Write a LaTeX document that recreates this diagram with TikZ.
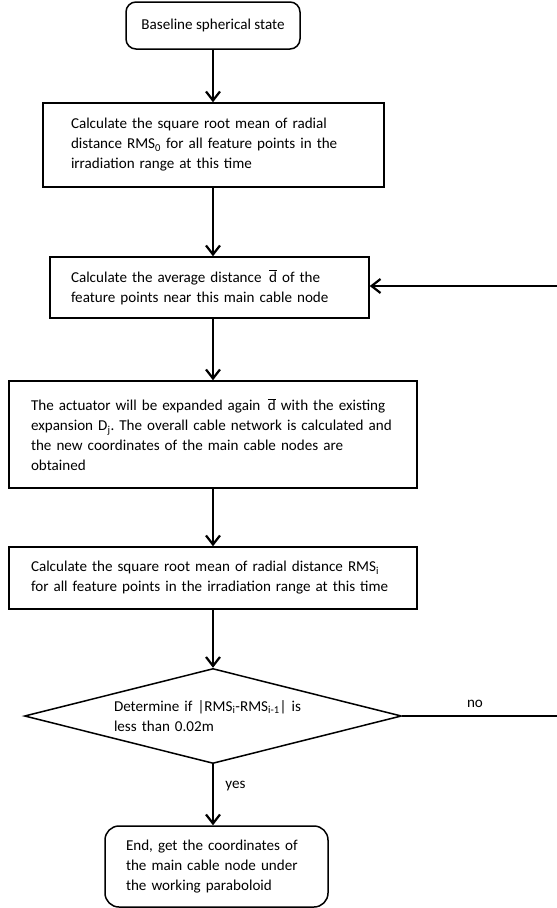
\documentclass[tikz,border=0pt]{standalone}
\usepackage{fontspec}
\setmainfont{Carlito}
\usetikzlibrary{shapes.geometric,arrows.meta}
\newcommand{\dbar}{$\overline{\mbox{d}}$}
\frenchspacing

\begin{document}
\begin{tikzpicture}[x=1pt, y=-1pt,
  every node/.style={font=\fontsize{15.1}{20}\selectfont},
  box/.style={draw, rectangle, line width=1.5pt, inner sep=0pt, align=left},
  startstop/.style={draw, rectangle, rounded corners=10pt, line width=1.5pt, inner sep=0pt, align=left},
  decision/.style={draw, diamond, aspect=4, line width=1.5pt, inner sep=0pt, align=left},
  >={Straight Barb[length=9pt, width=14pt]}]
\useasboundingbox (0,0) rectangle (557,908);
\node[startstop, minimum width=174pt, minimum height=47pt] (start) at (213,25.5) {Baseline spherical state};
\node[box, minimum width=341pt, minimum height=84pt, text width=285pt] (rms0) at (213.5,145) {Calculate the square root mean of radial\\distance RMS\textsubscript{0} for all feature points in the\\irradiation range at this time};
\node[box, minimum width=319pt, minimum height=61pt, text width=277pt] (avg) at (209.5,287.5) {Calculate the average distance \,\dbar{} of the\\feature points near this main cable node};
\node[box, minimum width=408pt, minimum height=107pt, text width=364pt] (act) at (213,434.5) {The actuator will be expanded again \,\dbar{} with the existing\\expansion D\textsubscript{j}. The overall cable network is calculated and\\the new coordinates of the main cable nodes are\\obtained};
\node[box, minimum width=408pt, minimum height=62pt, text width=364pt] (rmsi) at (213,578) {Calculate the square root mean of radial distance RMS\textsubscript{i}\\for all feature points in the irradiation range at this time};
\node[decision, minimum width=377pt, minimum height=95pt, text width=198pt] (check) at (213,716) {Determine if |RMS\textsubscript{i}-RMS\textsubscript{i-1}| is\\less than 0.02m};
\node[startstop, rounded corners=14pt, minimum width=223pt, minimum height=81pt, text width=181pt] (end) at (216.5,866.5) {End, get the coordinates of\\the main cable node under\\the working paraboloid};
\coordinate (noend) at (557,716);
\coordinate (backin) at (557,286);
\draw[->, line width=2.2pt] (start.south) -- (start.south |- rms0.north);
\draw[->, line width=2.2pt] (start.south |- rms0.south) -- (start.south |- avg.north);
\draw[->, line width=2.2pt] (start.south |- avg.south) -- (act.north);
\draw[->, line width=2.2pt] (act.south) -- (rmsi.north);
\draw[->, line width=2.2pt] (rmsi.south) -- (check.north);
\draw[->, line width=2.2pt] (check.south) -- (check.south |- end.north) node[pos=0.35, right, xshift=8pt] {yes};
\draw[line width=2.2pt] (check.east) -- (noend) node[pos=0.47, above, yshift=4pt] {no};
\draw[->, line width=2.2pt] (backin) -- (backin -| avg.east);
\end{tikzpicture}
\end{document}
